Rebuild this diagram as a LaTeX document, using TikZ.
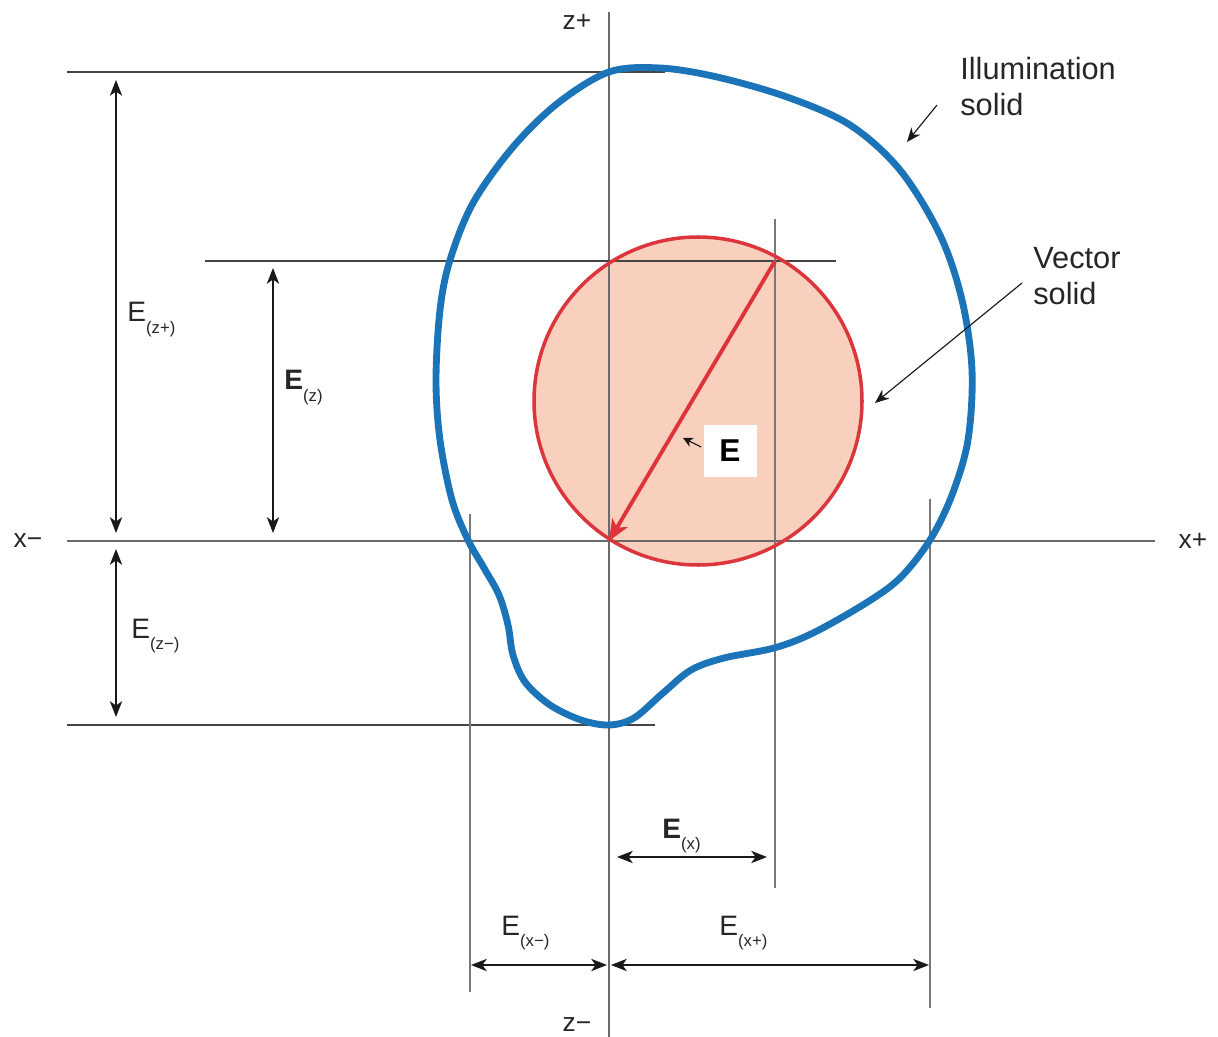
\documentclass[tikz,border=0pt]{standalone}
\usepackage{fontspec}
\setmainfont{Liberation Sans}
\usetikzlibrary{arrows.meta, positioning}

\definecolor{blobblue}{HTML}{1C74B8}
\definecolor{vecred}{HTML}{DB363C}
\definecolor{vecfill}{HTML}{F9CFBD}
\definecolor{axisgray}{HTML}{6A6A6A}
\definecolor{guidegray}{HTML}{444444}

% label E with a small lowered subscript
\newcommand{\elab}[2]{#1\raisebox{-0.42em}{\fontsize{9.5}{10}\mdseries\selectfont(#2)}}

\begin{document}
\begin{tikzpicture}[
    x=0.02cm, y=-0.02cm,
    axis/.style={draw=axisgray, line width=1.1pt},
    guide/.style={draw=guidegray, line width=0.9pt},
    vguide/.style={draw=axisgray!90, line width=1.3pt},
    dimarrow/.style={draw=black!90, line width=0.85pt, {Stealth[length=9pt,width=7pt,inset=2.5pt]}-{Stealth[length=9pt,width=7pt,inset=2.5pt]}},
    pointer/.style={draw=black!90, line width=0.65pt, -{Stealth[length=8pt,width=6.5pt,inset=2.5pt]}},
    blob/.style={draw=blobblue, line width=3.9pt},
    evec/.style={draw=vecred!95!red, line width=2.2pt, -{Stealth[length=12pt,width=10pt,inset=3pt]}},
    axlabel/.style={font=\fontsize{15}{18}\selectfont, inner sep=0pt, text=black!85},
    dimlabel/.style={font=\fontsize{16}{19}\selectfont, inner sep=0pt, anchor=base west, text=black!85},
    note/.style={font=\fontsize{17.5}{20.5}\selectfont, inner sep=0pt, anchor=north west, align=left, text=black!85}
]
\useasboundingbox (0,0) rectangle (1218,1037);

% vector solid (fill under the lines)
\coordinate (o) at (609,541);
\coordinate (ehead) at (775,261);
\node[circle, fill=vecfill, minimum size=6.56cm, inner sep=0pt] (vs) at (698,401) {};

% axes and guide lines
\draw[axis] (609,12) -- (609,1037);
\draw[axis] (67,541) -- (1155,541);
\draw[guide] (67,72) -- (665,72);
\draw[guide] (205,261) -- (836,261);
\draw[guide] (67,725) -- (655,725);
\draw[vguide] (470,514) -- (470,992);
\draw[vguide] (775,219) -- (775,888);
\draw[vguide] (930,499) -- (930,1008);

\draw[draw=vecred, line width=2pt] (vs.center) circle[radius=164];

% illumination solid
\draw[blob] plot[smooth cycle, tension=0.55] coordinates {
    (609,72) (660,68) (717,77) (787,97) (850,125) (900,170) (940,235)
    (962,300) (972,370) (968,440) (952,495) (930,540) (900,578) (866,603)
    (813,633) (774,648) (724,658) (691,670) (663,693) (634,718) (609,725)
    (581,720) (550,705) (525,682) (513,655) (508,625) (499,595) (484,568)
    (468,540) (452,500) (440,440) (436,380) (440,310) (450,260) (473,203)
    (513,147) (558,103)};

\draw[evec] (ehead) -- (o);

% axis labels
\node[axlabel] (zplus) at (577,22) {z+};
\node[axlabel] (zminus) at (577,1025) {z−};
\node[axlabel] (xminus) at (28,541) {x−};
\node[axlabel] (xplus) at (1193,541) {x+};

% dimension arrows
\coordinate (zpa) at (116,80);  \coordinate (zpb) at (116,533);
\coordinate (za)  at (273,268); \coordinate (zb)  at (273,533);
\coordinate (zma) at (116,549); \coordinate (zmb) at (116,717);
\coordinate (xa)  at (617,857); \coordinate (xb)  at (767,857);
\coordinate (xma) at (471,965); \coordinate (xmb) at (607,965);
\coordinate (xpa) at (611,965); \coordinate (xpb) at (929,965);
\draw[dimarrow] (zpa) -- (zpb);
\draw[dimarrow] (za) -- (zb);
\draw[dimarrow] (zma) -- (zmb);
\draw[dimarrow] (xa) -- (xb);
\draw[dimarrow] (xma) -- (xmb);
\draw[dimarrow] (xpa) -- (xpb);

\node[dimlabel] (lzp) at (127,322) {\elab{E}{z+}};
\node[dimlabel] (lz) at (284,390) {\elab{\textbf{E}}{z}};
\node[dimlabel] (lzm) at (131,638) {\elab{E}{z−}};
\node[dimlabel] (lx) at (662,838) {\elab{\textbf{E}}{x}};
\node[dimlabel] (lxm) at (501,935) {\elab{E}{x−}};
\node[dimlabel] (lxp) at (719,935) {\elab{E}{x+}};

% E label and pointers
\node[fill=white, minimum width=1.06cm, minimum height=1.04cm, inner sep=0pt,
      font=\fontsize{18}{20}\selectfont\bfseries] (ebox) at (730,451) {E};
\coordinate (etip) at (683,438);
\draw[pointer, -{Stealth[length=5.5pt,width=5.5pt,inset=1.5pt]}] ([shift={(-2,-4)}]ebox.west) -- (etip);

\node[note] (ill) at (960,57) {Illumination\\solid};
\node[note] (vec) at (1033,247) {Vector\\solid};
\coordinate (illtip) at (907,142);
\coordinate (vectip) at (875,403);
\draw[pointer] (937,105) -- (illtip);
\draw[pointer] (1022,283) -- (vectip);
\end{tikzpicture}
\end{document}
